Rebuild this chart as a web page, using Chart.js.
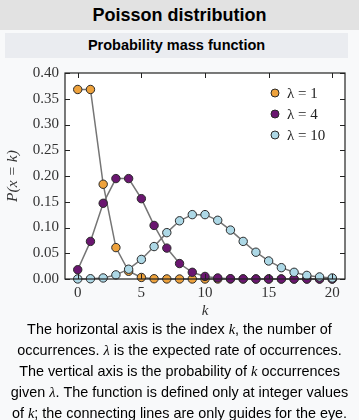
<!DOCTYPE html>
<html>
<head>
<meta charset="utf-8">
<script src="https://cdn.jsdelivr.net/npm/chart.js@4"></script>
<style>
  html, body { margin: 0; padding: 0; }
  body { width: 359px; height: 420px; background: #f8f9fa; position: relative; overflow: hidden;
         font-family: "Liberation Sans", Arial, sans-serif; color: #202122; }
  .title { position: absolute; left: 0; top: 0; width: 359px; height: 30px; background: #e2e2e2;
           text-align: center; font-weight: bold; font-size: 18px; line-height: 31px; color: #000; }
  .header { position: absolute; left: 5px; top: 33px; width: 343px; height: 25px; background: #eaecf0;
            text-align: center; font-weight: bold; font-size: 14.5px; line-height: 25px; color: #000; }
  .plot { position: absolute; left: 0; top: 58px; width: 359px; height: 262px; }
  .caption { position: absolute; left: 0; top: 319px; width: 359px; text-align: center;
             font-size: 14.4px; line-height: 21px; color: #000; }
  .m { font-family: "Liberation Serif", serif; font-style: italic; }
</style>
</head>
<body>
<div class="title">Poisson distribution</div>
<div class="header">Probability mass function</div>
<div class="plot"><canvas id="c"></canvas></div>
<div class="caption">The horizontal axis is the index <span class="m">k</span>, the number of<br>occurrences. <span class="m">λ</span> is the expected rate of occurrences.<br>The vertical axis is the probability of <span class="m">k</span> occurrences<br>given <span class="m">λ</span>. The function is defined only at integer values<br>of <span class="m">k</span>; the connecting lines are only guides for the eye.</div>
<script>
// k = 0..20
const kValues = [0,1,2,3,4,5,6,7,8,9,10,11,12,13,14,15,16,17,18,19,20];
const lambda1 = [0.368,0.368,0.184,0.061,0.015,0.003,0.0005,0.0001,0,0,0,0,0,0,0,0,0,0,0,0,0];
const lambda4 = [0.018,0.073,0.147,0.195,0.195,0.156,0.104,0.060,0.030,0.013,0.005,0.002,0.0006,0.0002,0,0,0,0,0,0,0];
const lambda10 = [0.0001,0.0005,0.002,0.008,0.019,0.038,0.063,0.090,0.113,0.125,0.125,0.114,0.095,0.073,0.052,0.035,0.022,0.013,0.007,0.004,0.002];
const seriesLabels = ['λ = 1', 'λ = 4', 'λ = 10'];
const seriesColors = ['#eea23c', '#6a1670', '#add8e6'];
const xTicks = [0, 5, 10, 15, 20];
const yTicks = [0, 0.05, 0.10, 0.15, 0.20, 0.25, 0.30, 0.35, 0.40];

const serif = '"Liberation Serif", "DejaVu Serif", serif';

const series = [lambda1, lambda4, lambda10];
const datasets = series.map((vals, i) => ({
  label: seriesLabels[i],
  data: kValues.map((k, j) => ({ x: k, y: vals[j] })),
  borderColor: '#757575',
  borderWidth: 1.5,
  pointRadius: 4.2,
  pointBorderWidth: 1,
  pointBorderColor: '#2a2a2a',
  pointBackgroundColor: seriesColors[i],
  order: 2 - i, // λ=10 on top
  clip: false
}));

const frame = {
  id: 'frame',
  beforeDraw(chart) {
    const a = chart.chartArea, ctx = chart.ctx;
    ctx.save();
    ctx.fillStyle = '#ffffff';
    ctx.fillRect(a.left, a.top, a.right - a.left, a.bottom - a.top);
    ctx.restore();
  },
  afterDatasetsDraw(chart) {
    const a = chart.chartArea, ctx = chart.ctx;
    const xs = chart.scales.x, ys = chart.scales.y;
    ctx.save();
    ctx.strokeStyle = '#222';
    ctx.lineWidth = 1.2;
    ctx.strokeRect(a.left, a.top, a.right - a.left, a.bottom - a.top);
    ctx.lineWidth = 1;
    ctx.beginPath();
    xTicks.forEach(v => {
      const px = Math.round(xs.getPixelForValue(v)) + 0.5;
      ctx.moveTo(px, a.bottom); ctx.lineTo(px, a.bottom - 5);
      ctx.moveTo(px, a.top); ctx.lineTo(px, a.top + 5);
    });
    yTicks.forEach(v => {
      const py = Math.round(ys.getPixelForValue(v)) + 0.5;
      ctx.moveTo(a.left, py); ctx.lineTo(a.left + 5, py);
      ctx.moveTo(a.right, py); ctx.lineTo(a.right - 5, py);
    });
    ctx.stroke();

    // legend inside top right
    const lx = a.left + 210, ly = a.top + 20;
    seriesLabels.forEach((lab, i) => {
      const y = ly + i * 21;
      ctx.beginPath();
      ctx.arc(lx, y, 4, 0, Math.PI * 2);
      ctx.fillStyle = seriesColors[i];
      ctx.fill();
      ctx.strokeStyle = '#2a2a2a';
      ctx.stroke();
      ctx.fillStyle = '#222';
      ctx.font = '15px ' + serif;
      ctx.textBaseline = 'middle';
      ctx.fillText(lab, lx + 12, y + 1);
    });
    ctx.restore();
  }
};

new Chart(document.getElementById('c'), {
  type: 'line',
  data: { datasets },
  options: {
    responsive: true,
    maintainAspectRatio: false,
    animation: false,
    layout: { padding: { top: 3, right: 14, left: 0, bottom: 0 } },
    plugins: { legend: { display: false }, tooltip: { enabled: false } },
    scales: {
      x: {
        type: 'linear',
        min: -1, max: 21,
        afterBuildTicks: s => { s.ticks = xTicks.map(v => ({ value: v })); },
        afterFit: s => { s.height = 41; },
        grid: { display: false, drawTicks: false },
        border: { display: false },
        ticks: { padding: 5, color: '#333', font: { family: serif, size: 15 } },
        title: { display: true, text: 'k', color: '#333', padding: { top: 3, bottom: 0 },
                 font: { family: serif, size: 15, style: 'italic' } }
      },
      y: {
        min: 0, max: 0.4,
        afterBuildTicks: s => { s.ticks = yTicks.map(v => ({ value: v })); },
        afterFit: s => { s.width = 65; },
        grid: { display: false, drawTicks: false },
        border: { display: false },
        ticks: { padding: 6, color: '#333', font: { family: serif, size: 15 },
                 callback: v => v.toFixed(2) },
        title: { display: true, text: 'P(x = k)', color: '#333', padding: { top: 4, bottom: 0 },
                 font: { family: serif, size: 15.5, style: 'italic' } }
      }
    }
  },
  plugins: [frame]
});
</script>
</body>
</html>
